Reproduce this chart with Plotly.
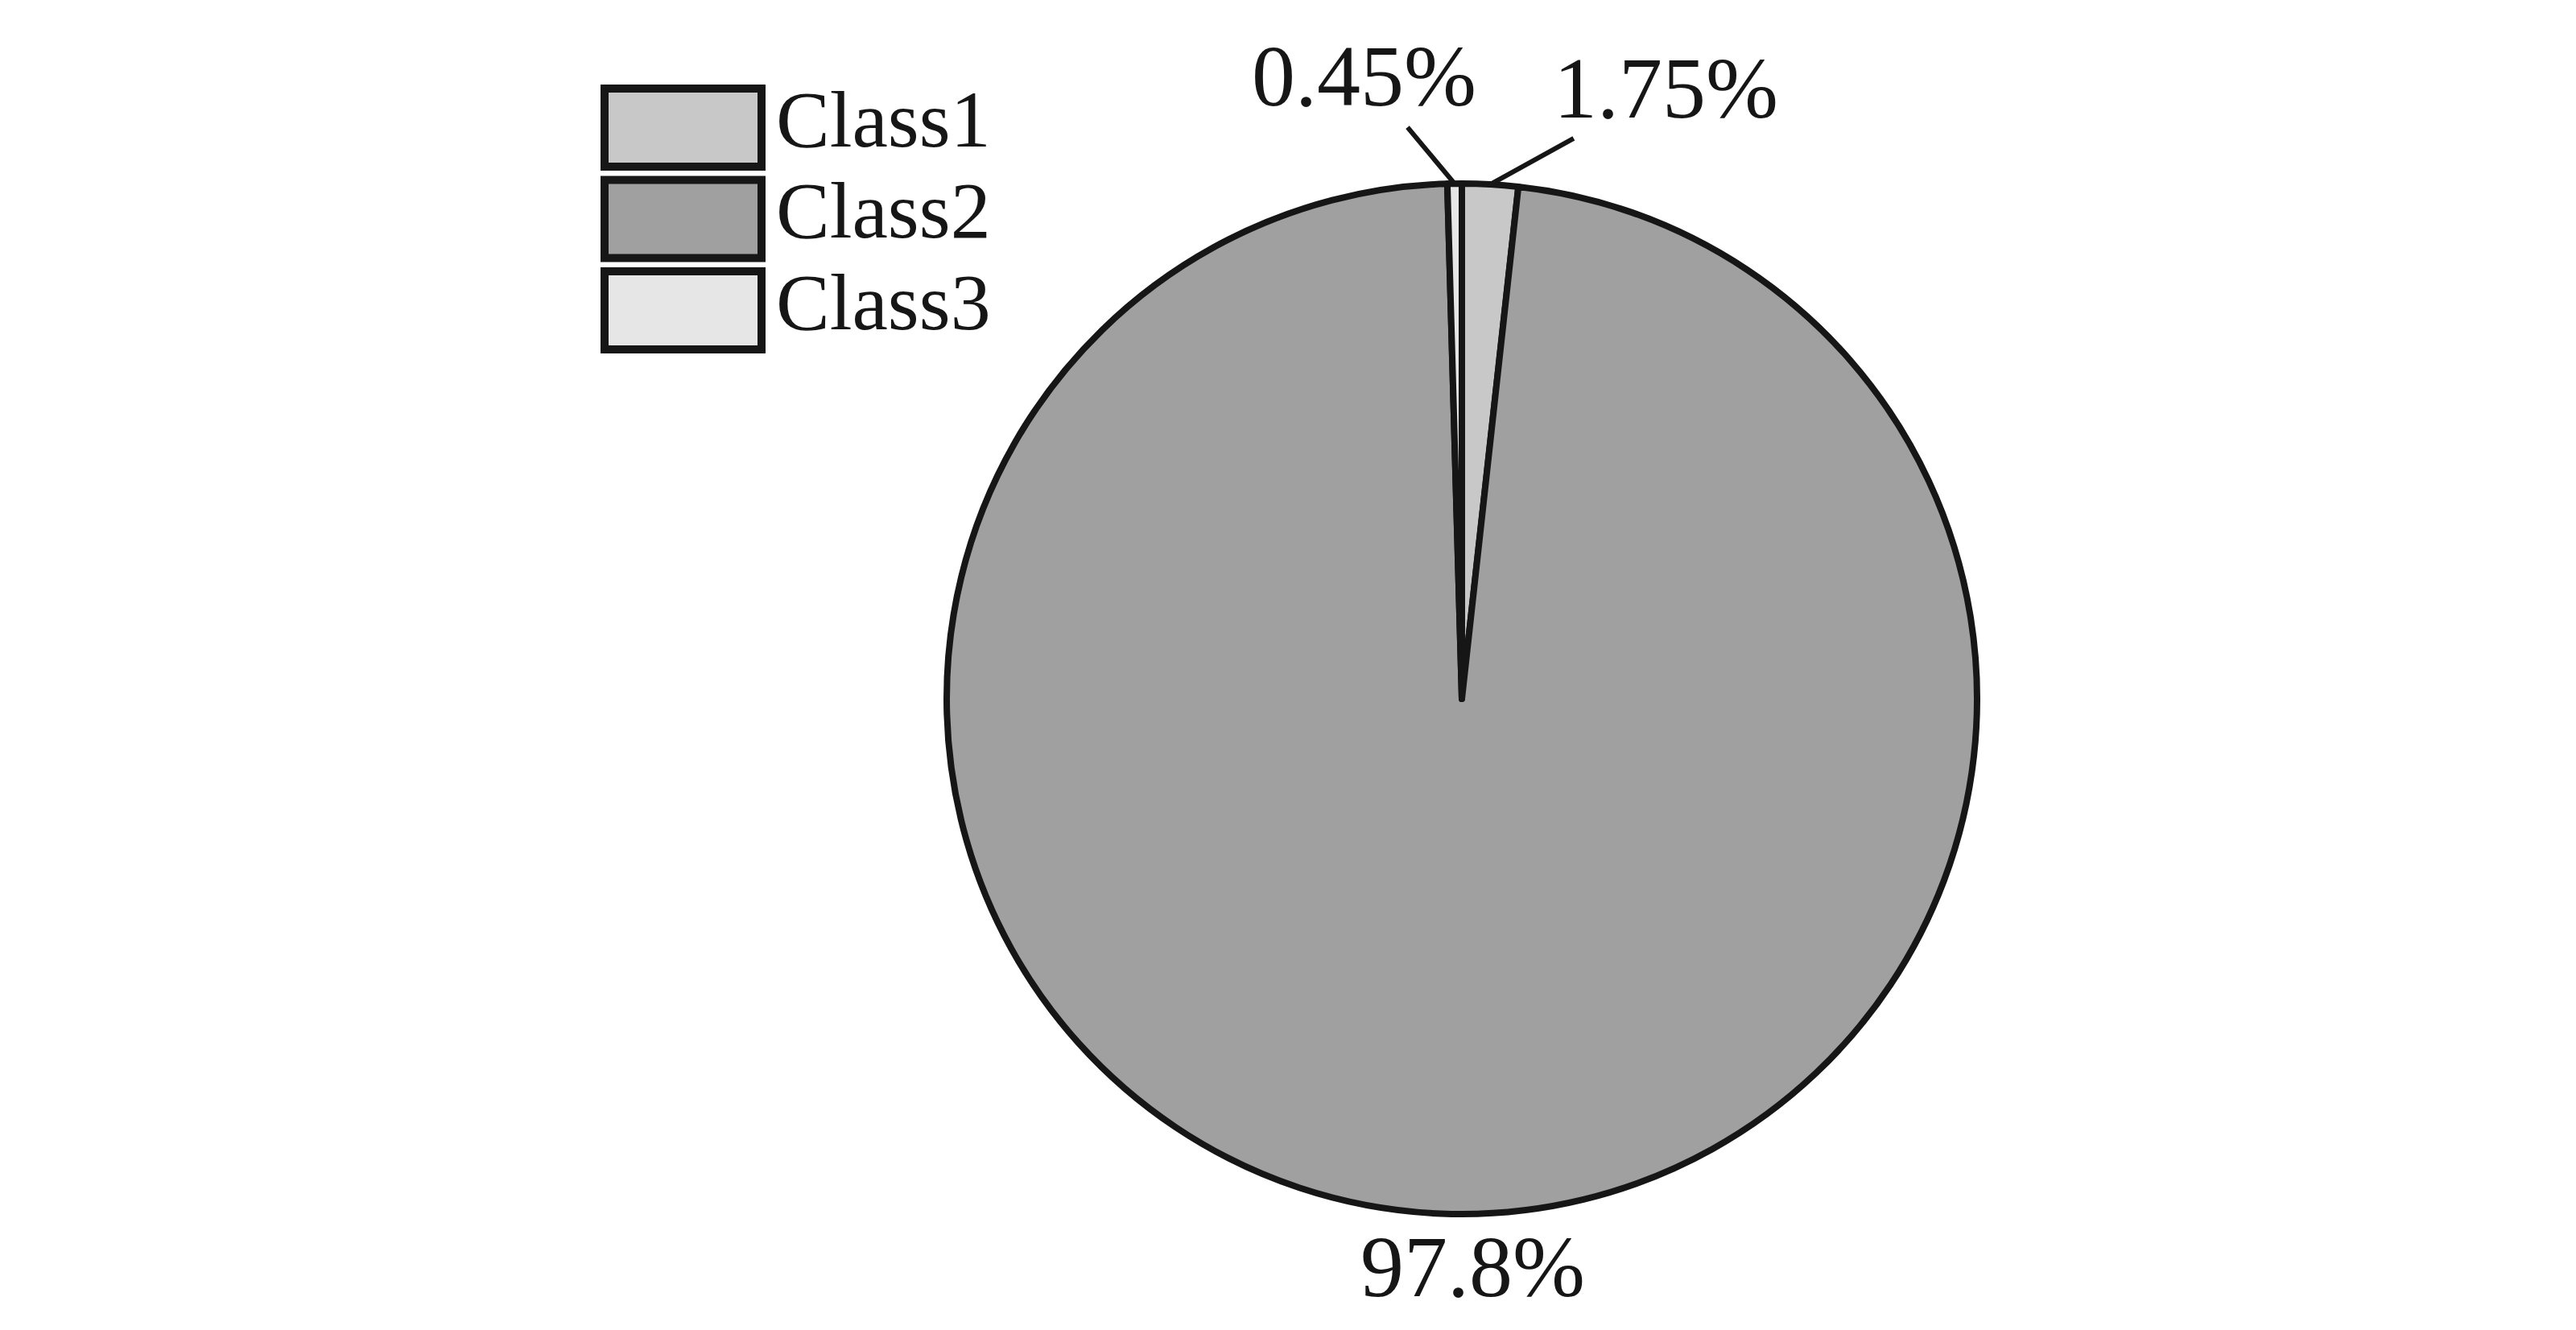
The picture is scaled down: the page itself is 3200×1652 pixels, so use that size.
import math
import plotly.graph_objects as go

# ---- data ----
labels = ["Class1", "Class2", "Class3"]
values = [1.75, 97.8, 0.45]
text_labels = ["1.75%", "97.8%", "0.45%"]
colors = ["#c8c8c8", "#a0a0a0", "#e6e6e6"]

W, H = 3200, 1652
FONT = "Liberation Serif, Times New Roman, serif"
INK = "#161616"

# pie placement (paper domain)
dom_x = [0.365, 0.765]
dom_y = [0.0920, 0.8668]
cx = (dom_x[0] + dom_x[1]) / 2 * W
cy = H - (dom_y[0] + dom_y[1]) / 2 * H
r = min((dom_x[1] - dom_x[0]) * W, (dom_y[1] - dom_y[0]) * H) / 2

fig = go.Figure(go.Pie(
    labels=labels, values=values, sort=False, direction="clockwise", rotation=0,
    marker=dict(colors=colors, line=dict(color=INK, width=8)),
    textinfo="none", hoverinfo="label+percent", showlegend=False,
    domain=dict(x=dom_x, y=dom_y),
))

# mid-angles of slices (clockwise from 12 o'clock), derived from values
total = sum(values)
mids = []
acc = 0.0
for v in values:
    mids.append((acc + v / 2) / total * 2 * math.pi)
    acc += v

def edge(theta):
    return cx + r * math.sin(theta), cy - r * math.cos(theta)

# label offsets (pixels from slice edge to text centre) and whether to draw a leader
offsets = [(218, -120, True), (40, 66, False), (-112, -134, True)]

annotations = []
for t, th, (ox, oy, lead) in zip(text_labels, mids, offsets):
    ex, ey = edge(th)
    if lead:
        annotations.append(dict(
            x=ex / W, y=1 - ey / H, xref="paper", yref="paper",
            text=t, showarrow=True, arrowhead=0, arrowwidth=6, arrowcolor=INK,
            ax=ox, ay=oy, standoff=0, startstandoff=4,
            font=dict(family=FONT, size=108, color=INK),
        ))
    else:
        annotations.append(dict(
            x=(ex + ox) / W, y=1 - (ey + oy) / H, xref="paper", yref="paper",
            text=t, showarrow=False, xanchor="center", yanchor="middle",
            font=dict(family=FONT, size=108, color=INK),
        ))

# custom legend with large boxes
shapes = []
box_x0, box_x1 = 743, 938
box_top0, box_h, box_step = 102, 97, 113.5
for i, (lab, col) in enumerate(zip(labels, colors)):
    y0 = box_top0 + i * box_step
    y1 = y0 + box_h
    shapes.append(dict(
        type="rect", xref="paper", yref="paper",
        x0=box_x0 / W, x1=box_x1 / W, y0=1 - y1 / H, y1=1 - y0 / H,
        fillcolor=col, line=dict(color=INK, width=10),
    ))
    annotations.append(dict(
        x=954 / W, y=1 - ((y0 + y1) / 2 - 10) / H, xref="paper", yref="paper",
        text=lab, showarrow=False, xanchor="left", yanchor="middle",
        font=dict(family=FONT, size=100, color=INK),
    ))

fig.update_layout(
    width=W, height=H,
    margin=dict(l=0, r=0, t=0, b=0),
    paper_bgcolor="white", plot_bgcolor="white",
    annotations=annotations, shapes=shapes,
)
fig.write_html("out.html")
